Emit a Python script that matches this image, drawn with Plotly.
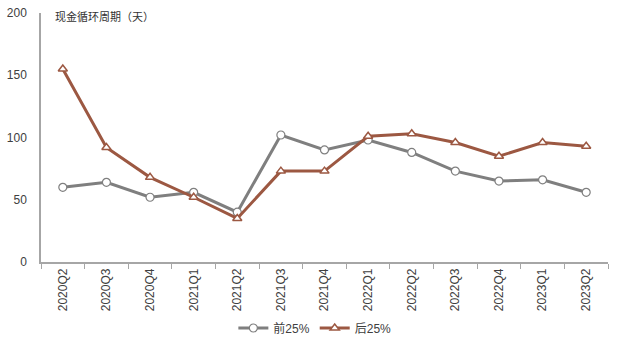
import plotly.graph_objects as go

quarters = ["2020Q2", "2020Q3", "2020Q4", "2021Q1", "2021Q2", "2021Q3", "2021Q4",
            "2022Q1", "2022Q2", "2022Q3", "2022Q4", "2023Q1", "2023Q2"]
top25 = [60, 64, 52, 56, 40, 102, 90, 98, 88, 73, 65, 66, 56]
bottom25 = [155, 92, 68, 52, 35, 73, 73, 101, 103, 96, 85, 96, 93]

FONT = "Liberation Sans, Arial, Noto Sans CJK SC, sans-serif"
GRAY = "#7f7f7f"
BROWN = "#9c5842"

fig = go.Figure()
fig.add_trace(go.Scatter(
    x=quarters, y=top25, name="前25%", mode="lines+markers",
    line=dict(color=GRAY, width=3),
    marker=dict(symbol="circle", size=8, color="white",
                line=dict(color=GRAY, width=1.2)),
))
fig.add_trace(go.Scatter(
    x=quarters, y=bottom25, name="后25%", mode="lines+markers",
    line=dict(color=BROWN, width=3),
    marker=dict(symbol="triangle-up", size=8, color="white",
                line=dict(color=BROWN, width=1.5)),
))

fig.update_layout(
    width=617, height=345,
    margin=dict(l=41, r=9, t=13, b=83, autoexpand=False),
    paper_bgcolor="white", plot_bgcolor="white",
    font=dict(family=FONT, size=12, color="#333333"),
    showlegend=True,
    legend=dict(orientation="h", x=0.483, xanchor="center", y=-0.265, yanchor="middle",
                font=dict(size=12, color="#404040"), itemwidth=30),
    xaxis=dict(
        type="category", range=[-0.5, 12.5], automargin=False,
        showline=True, linecolor="#a6a6a6", linewidth=1.5,
        ticks="outside", tickson="boundaries", ticklen=5, tickcolor="#a6a6a6",
        tickangle=-90, tickfont=dict(size=12, color="#404040"),
        showgrid=False, zeroline=False,
    ),
    yaxis=dict(
        range=[0, 200], dtick=50, automargin=False,
        showline=True, linecolor="#a6a6a6", linewidth=1.5,
        ticks="", ticklabelstandoff=10,
        tickfont=dict(size=12, color="#404040"),
        showgrid=False, zeroline=False,
    ),
    annotations=[dict(
        text="现金循环周期（天）", xref="paper", yref="paper",
        x=0.022, y=1.03, xanchor="left", yanchor="top", showarrow=False,
        font=dict(size=11, color="#333333", family="Noto Sans CJK SC"),
    )],
)

fig.write_html("out.html")
